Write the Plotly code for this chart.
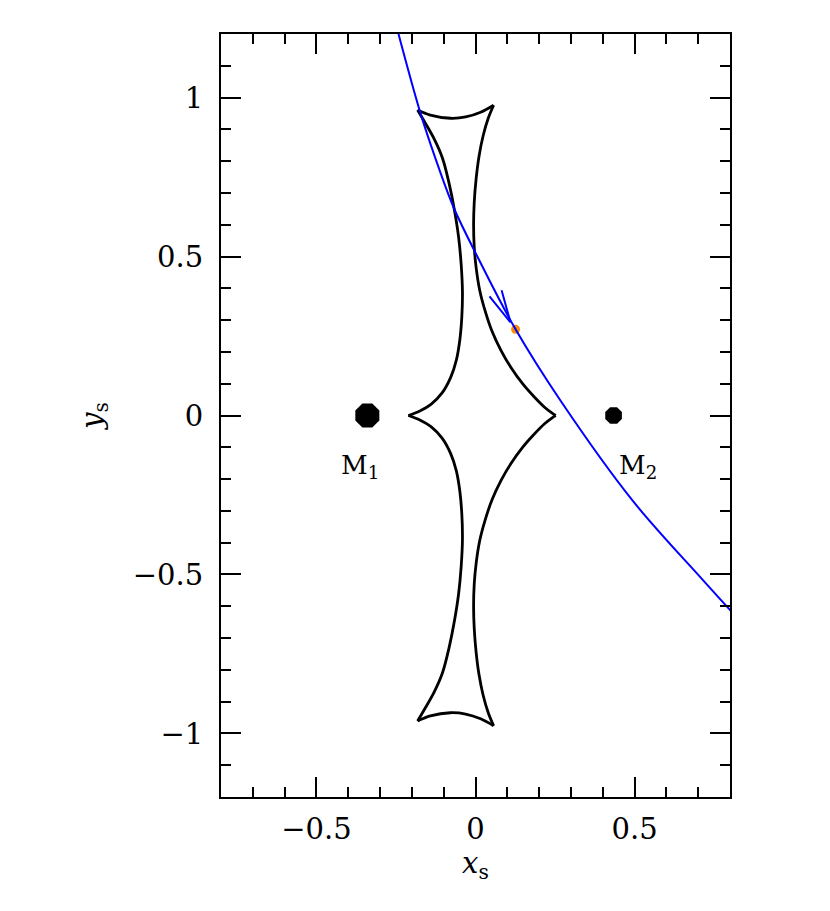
import plotly.graph_objects as go

# caustic arcs, upper half, split at the cusps
arc_ul_x = [-0.211, -0.175, -0.140, -0.105, -0.078, -0.060, -0.049, -0.043, -0.041, -0.045, -0.053, -0.066, -0.083, -0.104, -0.130, -0.158, -0.182]
arc_ul_y = [0.0, 0.014, 0.035, 0.071, 0.120, 0.175, 0.240, 0.310, 0.387, 0.475, 0.560, 0.645, 0.730, 0.810, 0.870, 0.920, 0.961]
arc_top_x = [-0.182, -0.142, -0.079, -0.031, 0.016, 0.057]
arc_top_y = [0.961, 0.945, 0.935, 0.939, 0.954, 0.976]
arc_ur_x = [0.057, 0.040, 0.024, 0.011, 0.002, -0.004, -0.006, -0.004, 0.002, 0.013, 0.030, 0.052, 0.080, 0.112, 0.148, 0.185, 0.218, 0.240, 0.252]
arc_ur_y = [0.976, 0.935, 0.880, 0.815, 0.745, 0.670, 0.600, 0.530, 0.465, 0.395, 0.330, 0.265, 0.205, 0.150, 0.100, 0.058, 0.025, 0.008, 0.0]

# lower half
arc_ll_x = [-0.211, -0.175, -0.140, -0.105, -0.078, -0.060, -0.049, -0.043, -0.041, -0.045, -0.053, -0.066, -0.083, -0.104, -0.130, -0.158, -0.182]
arc_ll_y = [0.0, -0.014, -0.035, -0.071, -0.120, -0.175, -0.240, -0.310, -0.387, -0.475, -0.560, -0.645, -0.730, -0.810, -0.870, -0.920, -0.961]
arc_bot_x = [-0.182, -0.142, -0.079, -0.031, 0.016, 0.057]
arc_bot_y = [-0.961, -0.945, -0.935, -0.939, -0.954, -0.976]
arc_lr_x = [0.057, 0.040, 0.024, 0.011, 0.002, -0.004, -0.006, -0.004, 0.002, 0.013, 0.030, 0.052, 0.080, 0.112, 0.148, 0.185, 0.218, 0.240, 0.252]
arc_lr_y = [-0.976, -0.935, -0.880, -0.815, -0.745, -0.670, -0.600, -0.530, -0.465, -0.395, -0.330, -0.265, -0.205, -0.150, -0.100, -0.058, -0.025, -0.008, 0.0]

# source trajectory
traj_x = [-0.242, -0.173, -0.126, -0.069, 0.009, 0.126, 0.267, 0.494, 0.708, 0.802]
traj_y = [1.2, 0.951, 0.809, 0.655, 0.494, 0.271, 0.047, -0.268, -0.510, -0.614]

# direction arrow (barb, tip, barb)
arrow_x = [0.044, 0.110, 0.082]
arrow_y = [0.375, 0.293, 0.394]

# current source position
src_x = [0.126]
src_y = [0.271]

# lens masses
mass_x = [-0.340, 0.434]
mass_y = [0.0, 0.0]
mass_size = [26, 18]
mass_names = ["M<sub>1</sub>", "M<sub>2</sub>"]

FONT = "DejaVu Serif"

fig = go.Figure()

arcs = [(arc_ul_x, arc_ul_y), (arc_top_x, arc_top_y), (arc_ur_x, arc_ur_y),
        (arc_ll_x, arc_ll_y), (arc_bot_x, arc_bot_y), (arc_lr_x, arc_lr_y)]
for ax_, ay_ in arcs:
    fig.add_trace(go.Scatter(x=ax_, y=ay_, mode='lines',
                             line=dict(color='black', width=2.8, shape='spline'),
                             showlegend=False, hoverinfo='skip'))

fig.add_trace(go.Scatter(x=src_x, y=src_y, mode='markers',
                         marker=dict(size=9, color='#ff8c00', opacity=1),
                         showlegend=False))

fig.add_trace(go.Scatter(x=traj_x, y=traj_y, mode='lines',
                         line=dict(color='#0000ff', width=2, shape='spline'),
                         showlegend=False))

fig.add_trace(go.Scatter(x=arrow_x, y=arrow_y, mode='lines',
                         line=dict(color='#0000ff', width=2),
                         showlegend=False))

fig.add_trace(go.Scatter(x=mass_x, y=mass_y, mode='markers',
                         marker=dict(symbol='octagon', size=mass_size, color='#000000',
                                     opacity=1, line=dict(width=0, color='#000000')),
                         showlegend=False))

for mx, name in zip(mass_x, mass_names):
    fig.add_annotation(x=mx - 0.088 if mx < 0 else mx + 0.01, y=-0.16,
                       xanchor='left', yanchor='middle', showarrow=False,
                       text=name, font=dict(family=FONT, size=26, color='black'))

axis_common = dict(
    showline=True, linecolor='black', linewidth=2, mirror='ticks',
    ticks='inside', ticklen=20, tickwidth=1.5, tickcolor='black',
    showgrid=False, zeroline=False,
    tickfont=dict(family=FONT, size=29, color='black'),
)

fig.update_xaxes(range=[-0.8, 0.8], dtick=0.5, tick0=0,
                 minor=dict(dtick=0.1, ticklen=10, tickwidth=1.5, ticks='inside', tickcolor='black'),
                 title=dict(text="<i>x</i><sub>s</sub>", font=dict(family=FONT, size=29, color='black'), standoff=0),
                 ticklabelstandoff=5, **axis_common)
fig.update_yaxes(range=[-1.2, 1.2], dtick=0.5, tick0=0,
                 minor=dict(dtick=0.1, ticklen=10, tickwidth=1.5, ticks='inside', tickcolor='black'),
                 title=dict(text="<i>y</i><sub>s</sub>", font=dict(family=FONT, size=29, color='black'), standoff=22),
                 ticklabelstandoff=10, **axis_common)

# the page adds an 8px body margin, so the margins are shifted to compensate
fig.update_layout(
    width=830, height=911,
    margin=dict(l=213, r=108, t=26, b=122),
    plot_bgcolor='white', paper_bgcolor='white',
    showlegend=False,
)

fig.write_html("out.html")
